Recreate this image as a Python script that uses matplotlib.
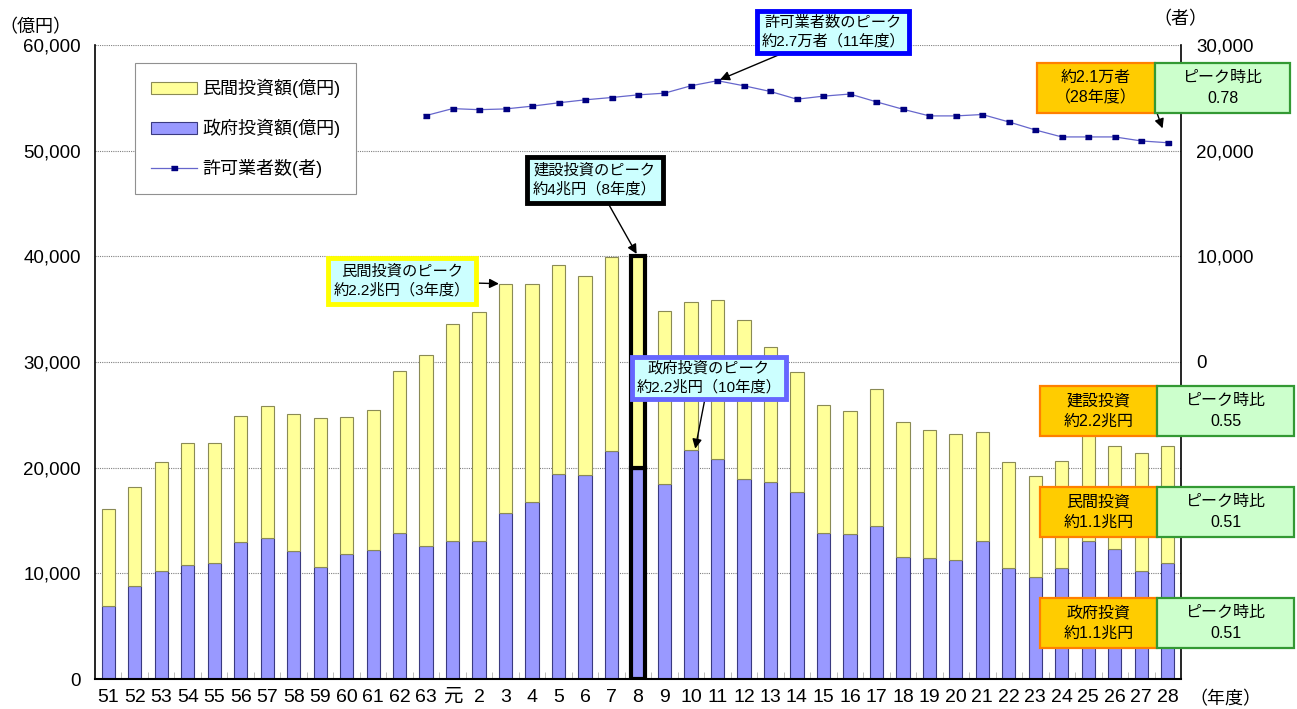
import numpy as np
import matplotlib
matplotlib.use("Agg")
from matplotlib import pyplot as plt
from matplotlib.patches import Rectangle, Patch
from matplotlib.lines import Line2D
from matplotlib.ticker import FuncFormatter

plt.rcParams["font.family"] = ["Liberation Sans", "Noto Sans CJK JP", "DejaVu Sans"]

# 年度ラベル（昭和51年度〜平成28年度）
years = ["51", "52", "53", "54", "55", "56", "57", "58", "59", "60", "61", "62", "63",
         "元", "2", "3", "4", "5", "6", "7", "8", "9", "10", "11", "12", "13", "14",
         "15", "16", "17", "18", "19", "20", "21", "22", "23", "24", "25", "26", "27", "28"]

# 政府投資額（億円）
gov = [6900, 8770, 10190, 10760, 11010, 12940, 13370, 12080, 10570, 11830, 12180, 13850, 12560,
       13030, 13100, 15740, 16720, 19370, 19280, 21550, 20000, 18480, 21670, 20790, 18900, 18640, 17670,
       13820, 13690, 14450, 11520, 11480, 11230, 13060, 10500, 9680, 10470, 13030, 12270, 10190, 11010]

# 民間投資額（億円）
private = [9200, 9370, 10310, 11600, 11350, 11920, 12430, 12970, 14100, 12930, 13250, 15300, 18140,
           20540, 21600, 21670, 20690, 19780, 18860, 18350, 20000, 16380, 13980, 15050, 15070, 12750, 11410,
           12080, 11670, 12960, 12830, 12080, 11920, 10280, 10000, 9500, 10130, 10770, 9810, 11170, 11070]

# 許可業者数（者）63年度から
people_years = years[12:]
people = [23325, 23980, 23880, 23950, 24210, 24530, 24810, 25030, 25280, 25440, 26140, 26620,
          26140, 25600, 24870, 25160, 25360, 24620, 23920, 23290, 23290, 23420, 22720, 21960,
          21300, 21300, 21300, 20920, 20750]

W, H = 1297, 709
fig = plt.figure(figsize=(W / 100, H / 100), dpi=100)
ax = fig.add_axes([95 / W, 1 - 679 / H, (1181 - 95) / W, (679 - 45) / H])

x = np.arange(len(years))
total = np.array(gov) + np.array(private)
peak = int(np.argmax(total))

yellow, purple = "#FFFF99", "#9999FF"
edge_y = ["#8a8a55"] * len(x)
edge_p = ["#3a3a80"] * len(x)
lw = [0.8] * len(x)
edge_y[peak] = edge_p[peak] = "black"
lw[peak] = 3

ax.bar(x, gov, width=0.5, color=purple, edgecolor=edge_p, linewidth=lw, zorder=2)
ax.bar(x, private, width=0.5, bottom=gov, color=yellow, edgecolor=edge_y, linewidth=lw, zorder=2)

ax.set_xlim(-0.5, len(x) - 0.5)
ax.set_ylim(0, 60000)
ax.set_yticks(np.arange(0, 60001, 10000))
ax.yaxis.set_major_formatter(FuncFormatter(lambda v, p: f"{int(v):,}"))
ax.grid(axis="y", linestyle=(0, (1, 1)), color="#808080", linewidth=0.8, zorder=0)
ax.set_xticks(x)
ax.set_xticklabels(years, fontsize=14)
ax.set_xticks(x[:-1] + 0.5, minor=True)
ax.tick_params(axis="x", which="major", length=0, pad=7)
ax.tick_params(axis="x", which="minor", direction="in", length=5, color="#b0b0b0")
ax.tick_params(axis="y", length=0, labelsize=13.5, pad=10)
ax.spines["top"].set_visible(False)
ax.spines["right"].set_visible(False)
ax.spines["bottom"].set_linewidth(1.5)
ax.spines["left"].set_linewidth(1.2)

# 許可業者数（右軸）
ax2 = ax.twinx()
px = x[12:]
marker = [(-1, -0.5), (1, -0.5), (1, 0.5), (-1, 0.5)]
ax2.plot(px, people, color="#6666CC", linewidth=0.9, marker=marker, markersize=5,
         markerfacecolor="#000080", markeredgecolor="#000080")
ax2.set_ylim(-30000, 30000)
ax2.set_yticks([0, 10000, 20000, 30000])
ax2.yaxis.set_major_formatter(FuncFormatter(lambda v, p: f"{int(v):,}"))
ax2.tick_params(axis="y", length=0, labelsize=13.5, pad=11)
for s in ["top", "left", "bottom"]:
    ax2.spines[s].set_visible(False)
ax2.spines["right"].set_linewidth(1.2)

handles = [Patch(facecolor=yellow, edgecolor="#8a8a55", linewidth=0.8),
           Patch(facecolor=purple, edgecolor="#3a3a80", linewidth=0.8),
           Line2D([0], [0], color="#6666CC", linewidth=0.9, marker=marker, markersize=5,
                  markerfacecolor="#000080", markeredgecolor="#000080")]
leg = ax2.legend(handles, ["民間投資額(億円)", "政府投資額(億円)", "許可業者数(者)"],
                 loc="upper left", bbox_to_anchor=(0.037, 0.972), borderaxespad=0, fontsize=13,
                 fancybox=False, edgecolor="#909090", framealpha=1, borderpad=0.9,
                 labelspacing=1.15, handlelength=2.5, handleheight=0.6, handletextpad=0.3)
leg.get_frame().set_linewidth(0.8)

arrow = dict(arrowstyle="-|>", color="black", lw=1, mutation_scale=14)
cyan = "#CCFFFF"
note = dict(ha="center", va="center", multialignment="center", fontsize=11, linespacing=1.35,
            textcoords="figure fraction", zorder=10)
ipk = int(np.argmax(people))
ax2.annotate(f"許可業者数のピーク\n約2.7万者（{people_years[ipk]}年度）",
             xy=(px[ipk], people[ipk]), xytext=(833 / W, 1 - 32 / H),
             bbox=dict(boxstyle="square,pad=0.3", fc=cyan, ec="#0000FF", lw=3.5),
             arrowprops=dict(arrow, shrinkA=0, shrinkB=2), **note)
ax2.annotate(f"建設投資のピーク\n約4兆円（{years[peak]}年度）",
             xy=(x[peak], total[peak] - 30000), xytext=(595 / W, 1 - 180 / H),
             bbox=dict(boxstyle="square,pad=0.4", fc=cyan, ec="black", lw=3.5),
             arrowprops=dict(arrow, shrinkA=0, shrinkB=2), **note)
ipr = int(np.argmax(private))
ax2.annotate(f"民間投資のピーク\n約2.2兆円（{years[ipr]}年度）",
             xy=(x[ipr] - 0.25, total[ipr] - 30000), xytext=(402 / W, 1 - 281 / H),
             bbox=dict(boxstyle="square,pad=0.4", fc=cyan, ec="#FFFF00", lw=3.5),
             arrowprops=dict(arrow, shrinkA=0, shrinkB=0), **note)
igv = int(np.argmax(gov))
ax2.annotate(f"政府投資のピーク\n約2.2兆円（{years[igv]}年度）",
             xy=(x[igv] + 0.15, gov[igv] - 30000), xytext=(709 / W, 1 - 378 / H),
             bbox=dict(boxstyle="square,pad=0.3", fc=cyan, ec="#6666FF", lw=3.5),
             arrowprops=dict(arrow, shrinkA=0, shrinkB=1), **note)

# 28年度の値とピーク時比
ax2.annotate("", xy=(px[-1], people[-1]), xytext=(1157 / W, 1 - 113 / H), textcoords="figure fraction",
             arrowprops=dict(arrow, shrinkA=0, shrinkB=11), zorder=10)


def pair_box(top, left_text, ratio, x0=1040, x1=1157, x2=1294, h=50):
    for (a, b, fc, ec, t) in [(x0, x1, "#FFCC00", "#FF8000", left_text),
                              (x1, x2, "#CCFFCC", "#339933", f"ピーク時比\n{ratio}")]:
        fig.add_artist(Rectangle((a / W, 1 - (top + h) / H), (b - a) / W, h / H,
                                 transform=fig.transFigure, facecolor=fc, edgecolor=ec,
                                 linewidth=1.6, zorder=20))
        fig.text((a + b) / 2 / W, 1 - (top + h / 2) / H, t, ha="center", va="center",
                 multialignment="center", fontsize=11.5, linespacing=1.45, zorder=21)


pair_box(63, "約2.1万者\n（28年度）", f"{people[-1] / max(people):.2f}", x0=1037, x1=1155, x2=1290)
pair_box(386, "建設投資\n約2.2兆円", f"{total[-1] / total.max():.2f}")
pair_box(487, "民間投資\n約1.1兆円", f"{private[-1] / max(private):.2f}")
pair_box(598, "政府投資\n約1.1兆円", f"{gov[-1] / max(gov):.2f}")

fig.text(35 / W, 1 - 28 / H, "（億円）", ha="center", va="center", fontsize=13)
fig.text(1180 / W, 1 - 20 / H, "（者）", ha="center", va="center", fontsize=13)
fig.text(1225 / W, 1 - 700 / H, "（年度）", ha="center", va="center", fontsize=13)

fig.savefig("out.png", dpi=100)
